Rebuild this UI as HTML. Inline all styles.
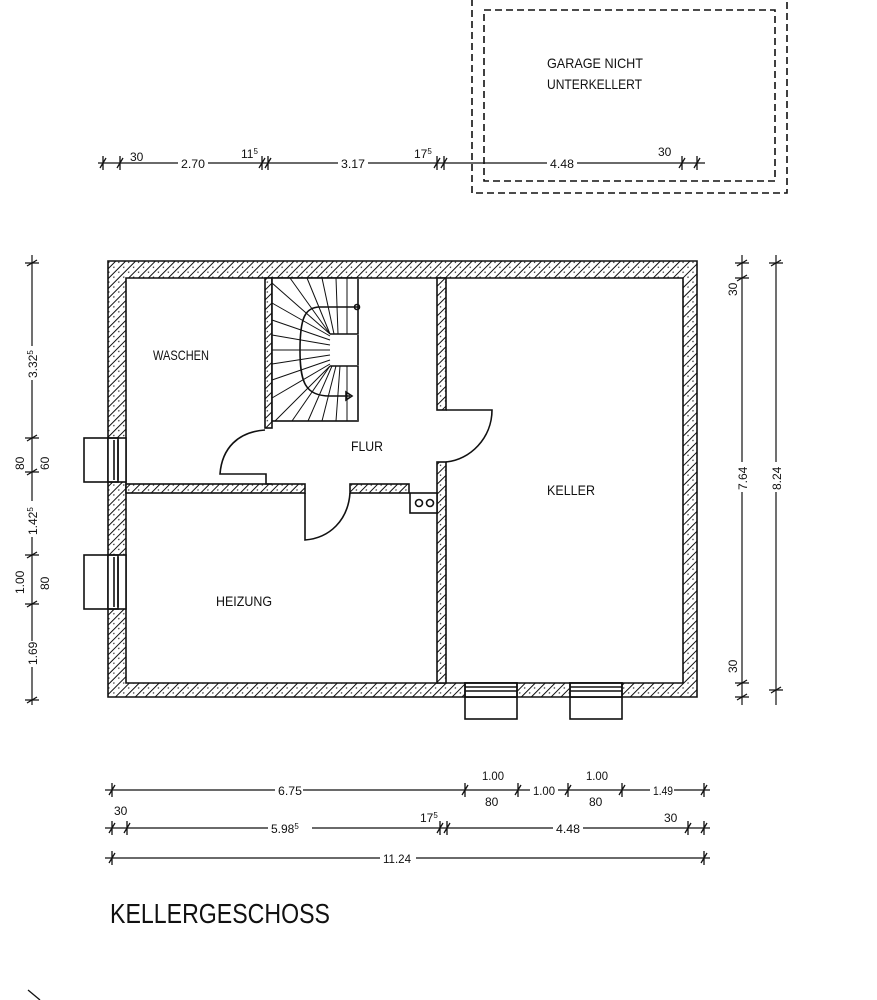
<!DOCTYPE html>
<html><head><meta charset="utf-8"><style>
html,body{margin:0;padding:0;background:#fff;}
svg{display:block;}
text{font-family:"Liberation Sans",sans-serif;fill:#111;}
</style></head><body>
<svg width="877" height="1000" viewBox="0 0 877 1000" xmlns="http://www.w3.org/2000/svg">
<defs>
<pattern id="h" width="7" height="7" patternUnits="userSpaceOnUse" patternTransform="rotate(45)">
<rect width="7" height="7" fill="#fff"/><line x1="0" y1="0" x2="0" y2="7" stroke="#111" stroke-width="2"/><circle cx="3.5" cy="3.5" r="0.7" fill="#222"/>
</pattern>
</defs>
<g stroke="#111" stroke-width="1.6" fill="none">
<rect x="472" y="-2" width="315" height="195" stroke-dasharray="7,4"/>
<rect x="484" y="10" width="291" height="171" stroke-dasharray="7,4"/>
<path d="M108 261H697V697H108Z M126 278V683H683V278Z" fill="url(#h)" fill-rule="evenodd"/>
<rect x="265" y="278" width="7" height="150" fill="url(#h)"/>
<rect x="437" y="278" width="9" height="132" fill="url(#h)"/>
<rect x="437" y="462" width="9" height="221" fill="url(#h)"/>
<rect x="126" y="484" width="179" height="9" fill="url(#h)"/>
<rect x="350" y="484" width="59" height="9" fill="url(#h)"/>
<rect x="410" y="493" width="27" height="20" fill="#fff"/>
<circle cx="419" cy="503" r="3.5"/><circle cx="430" cy="503" r="3.5"/>
<path d="M265 430 C238 432 222 448 220 474 L266 474 L266 484 L272 484"/>
<path d="M305 493 V540 C330 538 348 520 350 493"/>
<path d="M446 410 H492 C492 438 470 460 446 462"/>
<rect x="272" y="278" width="86" height="143" fill="#fff"/>
<path d="M358 278 V334 H330 V366 H358 V421" stroke="#fff" stroke-width="2"/>
<path d="M358 278 V334 H330 M330 366 H358 V421"/>
<path d="M358 307 H320 C305 307 300 318 300 350 C300 382 305 396 330 396 H350"/>
<path d="M346 392 L352 396 L346 400Z"/>
<circle cx="357" cy="307" r="2.5"/>
<g stroke-width="1">
<line x1="272" y1="283" x2="330" y2="334"/><line x1="290" y1="278" x2="330" y2="334"/><line x1="307" y1="278" x2="330" y2="334"/>
<line x1="322" y1="278" x2="334" y2="334"/><line x1="336" y1="278" x2="338" y2="334"/><line x1="347" y1="278" x2="347" y2="334"/>
<line x1="272" y1="303" x2="330" y2="336"/><line x1="272" y1="320" x2="330" y2="340"/><line x1="272" y1="335" x2="330" y2="345"/>
<line x1="272" y1="350" x2="330" y2="350"/><line x1="272" y1="364" x2="330" y2="355"/><line x1="272" y1="380" x2="330" y2="360"/>
<line x1="272" y1="398" x2="330" y2="364"/><line x1="275" y1="421" x2="330" y2="366"/><line x1="292" y1="421" x2="330" y2="366"/>
<line x1="308" y1="421" x2="332" y2="366"/><line x1="322" y1="421" x2="336" y2="366"/><line x1="336" y1="421" x2="340" y2="366"/><line x1="347" y1="421" x2="347" y2="366"/>
</g>
<rect x="108" y="438" width="18" height="44" fill="#fff"/>
<rect x="84" y="438" width="34" height="44"/><line x1="114" y1="440" x2="114" y2="480"/><line x1="118" y1="440" x2="118" y2="480"/>
<rect x="108" y="555" width="18" height="54" fill="#fff"/>
<rect x="84" y="555" width="34" height="54"/><line x1="114" y1="557" x2="114" y2="607"/><line x1="118" y1="557" x2="118" y2="607"/>
<rect x="465" y="683" width="52" height="14" fill="#fff"/>
<rect x="465" y="683" width="52" height="36"/><line x1="465" y1="687" x2="517" y2="687"/><line x1="465" y1="691" x2="517" y2="691"/><line x1="465" y1="697" x2="517" y2="697"/>
<rect x="570" y="683" width="52" height="14" fill="#fff"/>
<rect x="570" y="683" width="52" height="36"/><line x1="570" y1="687" x2="622" y2="687"/><line x1="570" y1="691" x2="622" y2="691"/><line x1="570" y1="697" x2="622" y2="697"/>
</g>
<g stroke="#111" stroke-width="1.2">
<line x1="98" y1="163" x2="705" y2="163"/>
<line x1="105" y1="790" x2="710" y2="790"/>
<line x1="105" y1="828" x2="710" y2="828"/>
<line x1="105" y1="858" x2="710" y2="858"/>
<line x1="32" y1="255" x2="32" y2="705"/>
<line x1="742" y1="255" x2="742" y2="705"/>
<line x1="776" y1="255" x2="776" y2="705"/>
</g>
<g stroke="#111" stroke-width="1.3">
<path d="M103 156V170M100 168L106 158 M120 156V170M117 168L123 158 M262 156V170M259 168L265 158 M268 156V170M265 168L271 158 M437 156V170M434 168L440 158 M444 156V170M441 168L447 158 M682 156V170M679 168L685 158 M697 156V170M694 168L700 158"/>
<path d="M112 783V797M109 795L115 785 M465 783V797M462 795L468 785 M518 783V797M515 795L521 785 M568 783V797M565 795L571 785 M622 783V797M619 795L625 785 M704 783V797M701 795L707 785"/>
<path d="M112 821V835M109 833L115 823 M127 821V835M124 833L130 823 M440 821V835M437 833L443 823 M447 821V835M444 833L450 823 M688 821V835M685 833L691 823 M704 821V835M701 833L707 823"/>
<path d="M112 851V865M109 863L115 853 M704 851V865M701 863L707 853"/>
<path d="M25 263H39M27 266L37 260 M25 438H39M27 441L37 435 M25 472H39M27 475L37 469 M25 555H39M27 558L37 552 M25 604H39M27 607L37 601 M25 700H39M27 703L37 697"/>
<path d="M735 263H749M737 266L747 260 M735 278H749M737 281L747 275 M735 683H749M737 686L747 680 M735 697H749M737 700L747 694"/>
<path d="M769 263H783M771 266L781 260 M769 690H783M771 693L781 687"/>
</g>
<g font-size="12">
<rect x="125" y="150" width="22" height="12" fill="#fff"/><text x="130" y="161">30</text>
<rect x="178" y="155" width="30" height="14" fill="#fff"/><text x="181" y="168" textLength="24" lengthAdjust="spacingAndGlyphs">2.70</text>
<text x="241" y="158">11<tspan font-size="8" dy="-4">5</tspan></text>
<rect x="338" y="155" width="30" height="14" fill="#fff"/><text x="341" y="168" textLength="24" lengthAdjust="spacingAndGlyphs">3.17</text>
<text x="414" y="158">17<tspan font-size="8" dy="-4">5</tspan></text>
<rect x="547" y="155" width="30" height="14" fill="#fff"/><text x="550" y="168" textLength="24" lengthAdjust="spacingAndGlyphs">4.48</text>
<text x="658" y="156">30</text>
<rect x="275" y="782" width="28" height="14" fill="#fff"/><text x="278" y="795" textLength="24" lengthAdjust="spacingAndGlyphs">6.75</text>
<text x="482" y="780" textLength="22" lengthAdjust="spacingAndGlyphs">1.00</text><text x="485" y="806">80</text>
<rect x="530" y="782" width="28" height="14" fill="#fff"/><text x="533" y="795" textLength="22" lengthAdjust="spacingAndGlyphs">1.00</text>
<text x="586" y="780" textLength="22" lengthAdjust="spacingAndGlyphs">1.00</text><text x="589" y="806">80</text>
<rect x="650" y="782" width="24" height="14" fill="#fff"/><text x="653" y="795" textLength="20" lengthAdjust="spacingAndGlyphs">1.49</text>
<text x="114" y="815">30</text>
<rect x="268" y="820" width="44" height="14" fill="#fff"/><text x="271" y="833">5.98<tspan font-size="8" dy="-4">5</tspan></text>
<text x="420" y="822">17<tspan font-size="8" dy="-4">5</tspan></text>
<rect x="553" y="820" width="30" height="14" fill="#fff"/><text x="556" y="833" textLength="24" lengthAdjust="spacingAndGlyphs">4.48</text>
<text x="664" y="822">30</text>
<rect x="380" y="850" width="36" height="14" fill="#fff"/><text x="383" y="863" textLength="28" lengthAdjust="spacingAndGlyphs">11.24</text>
</g>
<g font-size="12">
<g transform="translate(37,370) rotate(-90)"><rect x="-10" y="-12" width="34" height="14" fill="#fff"/><text x="-8" y="0">3.32<tspan font-size="8" dy="-4">5</tspan></text></g>
<g transform="translate(24,470) rotate(-90)"><text x="0" y="0">80</text></g>
<g transform="translate(49,470) rotate(-90)"><text x="0" y="0">60</text></g>
<g transform="translate(37,535) rotate(-90)"><rect x="-2" y="-12" width="36" height="14" fill="#fff"/><text x="0" y="0">1.42<tspan font-size="8" dy="-4">5</tspan></text></g>
<g transform="translate(24,594) rotate(-90)"><text x="0" y="0">1.00</text></g>
<g transform="translate(49,590) rotate(-90)"><text x="0" y="0">80</text></g>
<g transform="translate(37,665) rotate(-90)"><rect x="-2" y="-12" width="26" height="14" fill="#fff"/><text x="0" y="0">1.69</text></g>
<g transform="translate(737,296) rotate(-90)"><text x="0" y="0">30</text></g>
<g transform="translate(747,490) rotate(-90)"><rect x="-2" y="-12" width="30" height="14" fill="#fff"/><text x="0" y="0">7.64</text></g>
<g transform="translate(781,490) rotate(-90)"><rect x="-2" y="-12" width="30" height="14" fill="#fff"/><text x="0" y="0">8.24</text></g>
<g transform="translate(737,673) rotate(-90)"><text x="0" y="0">30</text></g>
</g>
<g font-size="14">
<text x="547" y="68" textLength="96" lengthAdjust="spacingAndGlyphs">GARAGE NICHT</text>
<text x="547" y="89" textLength="95" lengthAdjust="spacingAndGlyphs">UNTERKELLERT</text>
<text x="153" y="360" textLength="56" lengthAdjust="spacingAndGlyphs">WASCHEN</text>
<text x="351" y="451" textLength="32" lengthAdjust="spacingAndGlyphs">FLUR</text>
<text x="547" y="495" textLength="48" lengthAdjust="spacingAndGlyphs">KELLER</text>
<text x="216" y="606" textLength="56" lengthAdjust="spacingAndGlyphs">HEIZUNG</text>
</g>
<text x="110" y="923" font-size="28" textLength="220" lengthAdjust="spacingAndGlyphs">KELLERGESCHOSS</text>
<line x1="28" y1="990" x2="40" y2="1000" stroke="#111" stroke-width="1.3"/>
</svg>
</body></html>
